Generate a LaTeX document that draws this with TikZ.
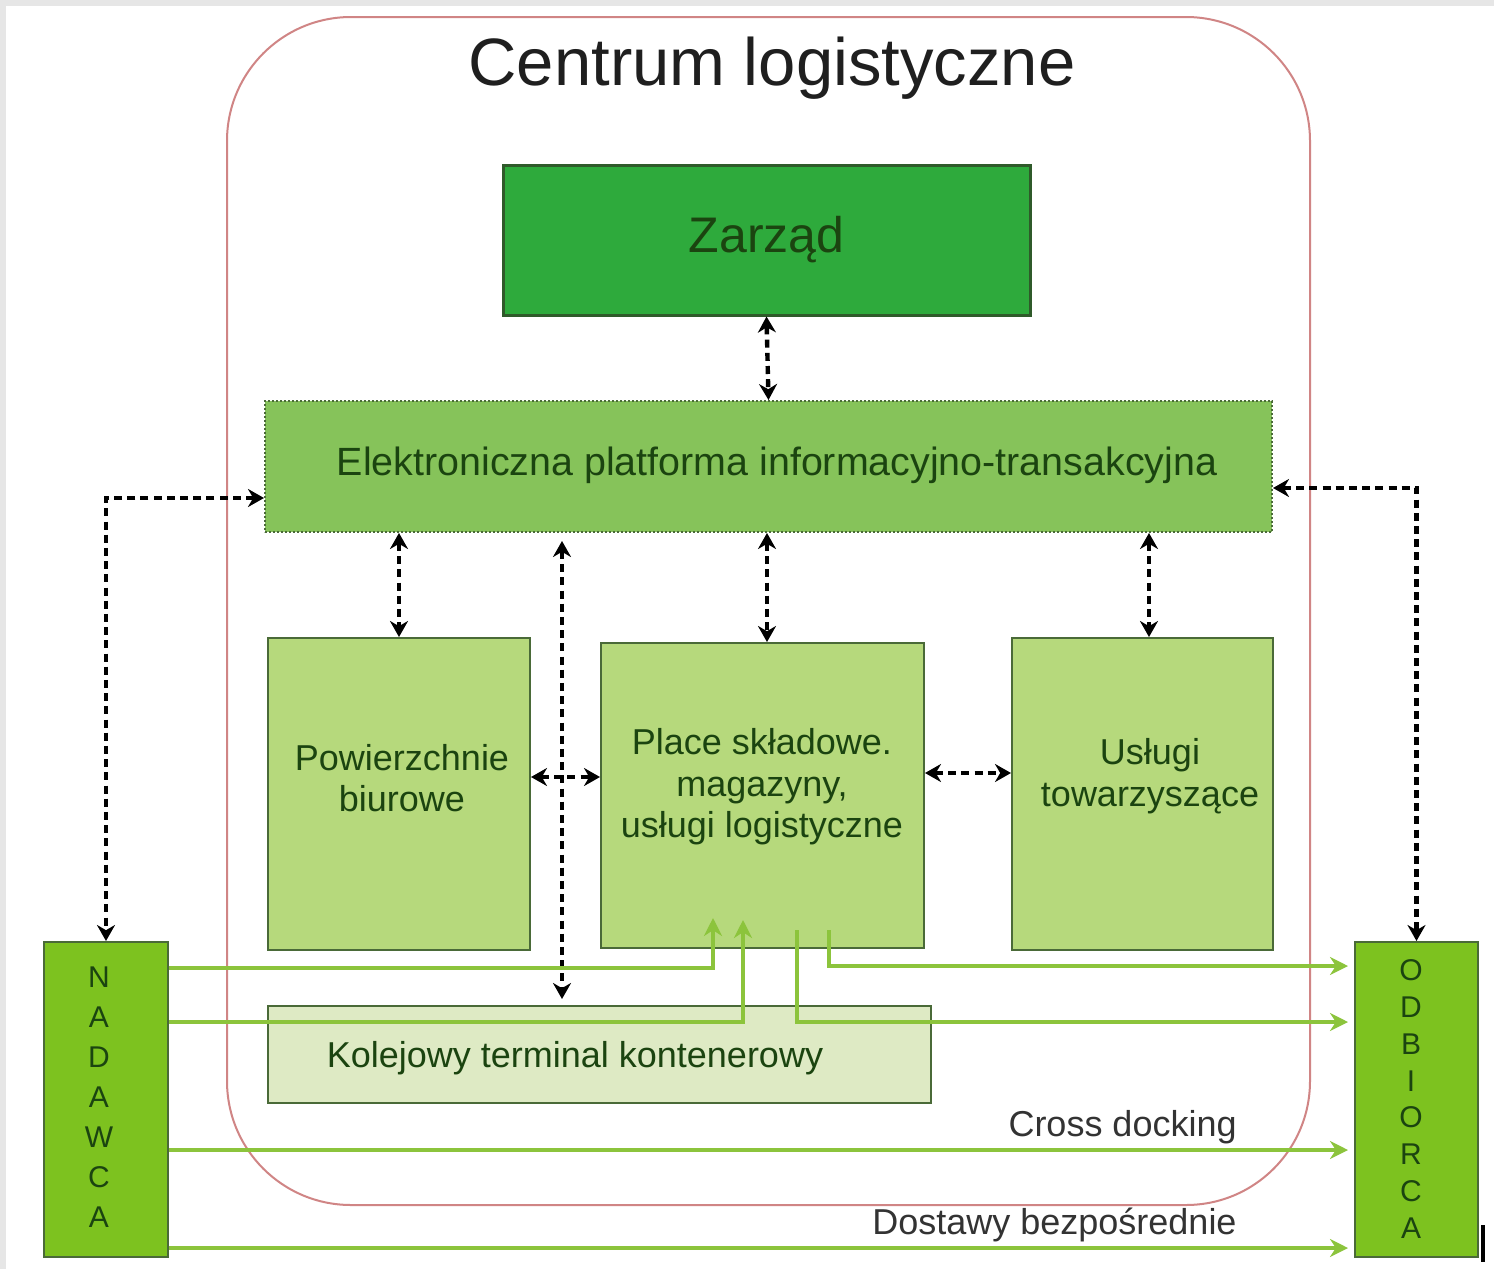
\documentclass[tikz,border=0pt]{standalone}
\usepackage{fontspec}
\setmainfont{Liberation Sans}
\usetikzlibrary{arrows.meta}
\definecolor{zarfill}{HTML}{2EAA3C}
\definecolor{zarline}{HTML}{2F5A2A}
\definecolor{platfill}{HTML}{86C35A}
\definecolor{lightfill}{HTML}{B6D97C}
\definecolor{kolfill}{HTML}{DEEAC4}
\definecolor{endfill}{HTML}{7DC21F}
\definecolor{boxline}{HTML}{4A6A38}
\definecolor{garrowc}{HTML}{8CC43C}
\definecolor{outerc}{HTML}{D08585}
\definecolor{txtgreen}{HTML}{1B4410}
\definecolor{lblgray}{HTML}{333333}
\definecolor{bggray}{HTML}{E6E6E6}
\begin{document}
\begin{tikzpicture}[x=0.5pt,y=-0.5pt,
  box/.style={draw=boxline, line width=1pt, inner sep=0pt},
  zarbox/.style={box, fill=zarfill, draw=zarline, line width=1.5pt, text=txtgreen, font=\fontsize{25}{30}\selectfont},
  platbox/.style={box, fill=platfill, line width=1pt, dash pattern=on 1.2pt off 0.8pt},
  lightbox/.style={box, fill=lightfill},
  kolbox/.style={box, fill=kolfill},
  endbox/.style={box, fill=endfill},
  boxtext/.style={text=txtgreen, font=\fontsize{18}{20.7}\selectfont, align=center, inner sep=0pt},
  lettertext/.style={text=txtgreen, font=\fontsize{15}{#1}\selectfont, align=center, inner sep=0pt},
  flowlabel/.style={text=lblgray, font=\fontsize{18}{21}\selectfont, inner sep=0pt},
  dasharrow/.style={draw=black, line width=2.2pt, dash pattern=on 4pt off 2.6pt,
     {Stealth[length=8pt,width=9pt]}-{Stealth[length=8pt,width=9pt]}},
  garrow/.style={draw=garrowc, line width=2.2pt, -{Stealth[length=9pt,width=9pt]}}
]
\useasboundingbox (0,0) rectangle (1494,1269);
\fill[bggray] (0,0) rectangle (1494,1269);
\fill[white] (6,6) rectangle (1494,1269);

% outer rounded frame
\draw[outerc, line width=1pt, rounded corners=62pt] (227,17) rectangle (1310,1205);
\node[text=black!88, font=\fontsize{33.5}{40}\selectfont, inner sep=0pt] (title) at (772,68) {Centrum logistyczne};

% boxes
\node[zarbox, minimum width=263.5pt, minimum height=75pt] (zar) at (766.5,240) {Zarząd};
\node[platbox, minimum width=503.5pt, minimum height=65.5pt] (plat) at (768.5,466.5) {};
\node[text=txtgreen, font=\fontsize{19.7}{24}\selectfont, inner sep=0pt] (plattext) at (777,465) {Elektroniczna platforma informacyjno-transakcyjna};

\node[lightbox, minimum width=131pt, minimum height=156pt] (pow) at (399,794) {};
\node[boxtext] (powtext) at (402,778) {Powierzchnie\\biurowe};

\node[lightbox, minimum width=161.5pt, minimum height=152.5pt] (mid) at (762.5,795.5) {};
\node[boxtext] (midtext) at (762,787) {Place składowe.\\magazyny,\\usługi logistyczne};

\node[lightbox, minimum width=130.5pt, minimum height=156pt] (usl) at (1142.5,794) {};
\node[boxtext] (usltext) at (1150,776) {Usługi\\towarzyszące};

\node[kolbox, minimum width=331.5pt, minimum height=48.5pt] (kol) at (599.5,1054.5) {};
\node[boxtext] (koltext) at (575,1058) {Kolejowy terminal kontenerowy};

\node[endbox, minimum width=62pt, minimum height=157.5pt] (nad) at (106,1099.5) {};
\node[lettertext=20] (nadtext) at (99,1097) {N\\A\\D\\A\\W\\C\\A};

\node[endbox, minimum width=61.5pt, minimum height=157.5pt] (odb) at (1416.5,1099.5) {};
\node[lettertext=18.4] (odbtext) at (1411,1099) {O\\D\\B\\I\\O\\R\\C\\A};

% helper coordinates
\coordinate (yl) at (0,498);
\coordinate (yr) at (0,488);
\coordinate (kx) at (562,0);
\coordinate (mx) at (767,0);
\coordinate (rx) at (1149,0);
\coordinate (hy1) at (0,777);
\coordinate (hy2) at (0,773);

% dashed information connectors
\draw[dasharrow] (zar.south) -- (plat.north);
\draw[dasharrow] (plat.west |- yl) -| (nad.north);
\draw[dasharrow] (plat.east |- yr) -| (odb.north);
\draw[dasharrow] (plat.south -| pow.north) -- (pow.north);
\draw[dasharrow, shorten <=4pt, shorten >=3pt] (plat.south -| kx) -- (kol.north -| kx);
\draw[dasharrow] (plat.south -| mx) -- (mid.north -| mx);
\draw[dasharrow] (plat.south -| rx) -- (usl.north -| rx);
\draw[dasharrow] (pow.east |- hy1) -- (mid.west |- hy1);
\draw[dasharrow] (mid.east |- hy2) -- (usl.west |- hy2);

% green material flows
\coordinate (ga) at (713,918);
\coordinate (gb) at (743,920);
\coordinate (gc) at (797,930);
\coordinate (gd) at (829,930);
\coordinate (y1) at (0,968);
\coordinate (y2) at (0,1022);
\coordinate (y3) at (0,966);
\coordinate (y4) at (0,1150);
\coordinate (y5) at (0,1248);
\draw[garrow] (nad.east |- y1) -| (ga);
\draw[garrow] (nad.east |- y2) -| (gb);
\draw[garrow, shorten >=3pt] (gc) |- (odb.west |- y2);
\draw[garrow, shorten >=3pt] (gd) |- (odb.west |- y3);
\draw[garrow, shorten >=3pt] (nad.east |- y4) -- (odb.west |- y4);
\draw[garrow, shorten >=3pt] (nad.east |- y5) -- (odb.west |- y5);

\node[flowlabel, anchor=east] (cross) at (1237,1127) {Cross docking};
\node[flowlabel, anchor=east] (direct) at (1237,1225) {Dostawy bezpośrednie};

% small black mark at bottom right
\draw[black, line width=2pt] (1483,1225) -- (1483,1262);
\end{tikzpicture}
\end{document}
